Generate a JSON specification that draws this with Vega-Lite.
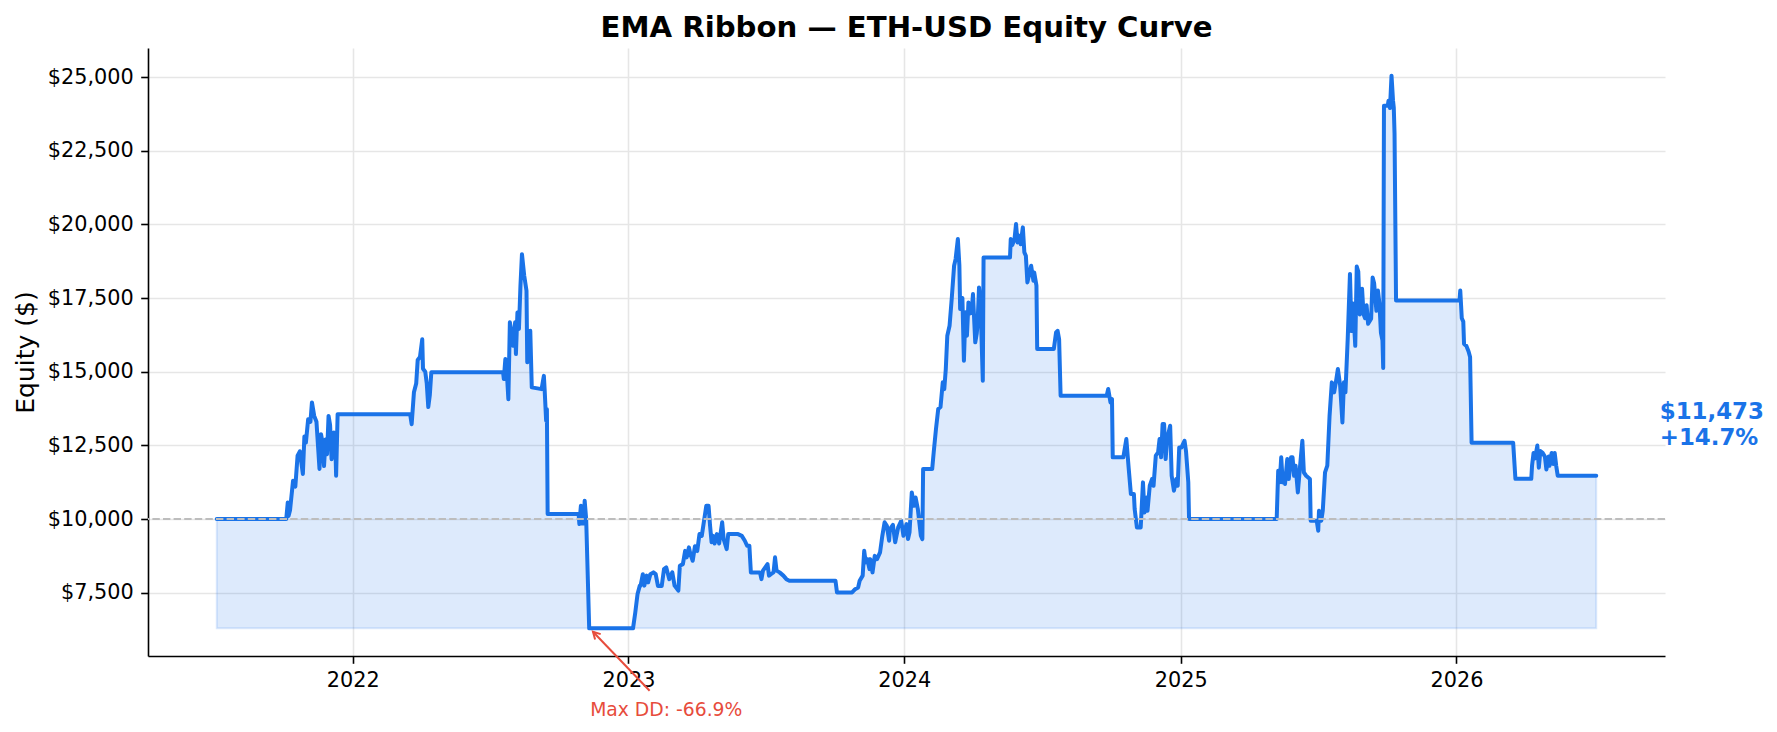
{
"$schema": "https://vega.github.io/schema/vega-lite/v6.json",
"width": 1517, "height": 608,
"autosize": {"type": "none"},
"padding": {"left": 148, "top": 48, "right": 112, "bottom": 76},
"background": "white",
"config": {"view": {"stroke": null}, "font": "DejaVu Sans"},
"title": {"text": "EMA Ribbon — ETH-USD Equity Curve", "fontSize": 29.2, "fontWeight": "bold", "font": "DejaVu Sans", "color": "black", "anchor": "middle", "baseline": "alphabetic", "offset": 10, "dy": 28},
"datasets": {
"equity": [
{"date":"2021-07-05","equity":10000},{"date":"2021-10-05","equity":10000},{"date":"2021-10-07","equity":10560},{"date":"2021-10-08","equity":10100},{"date":"2021-10-10","equity":10300},{"date":"2021-10-14","equity":11300},{"date":"2021-10-17","equity":11100},{"date":"2021-10-20","equity":12150},{"date":"2021-10-23","equity":12300},{"date":"2021-10-27","equity":11530},{"date":"2021-10-29","equity":12800},{"date":"2021-10-31","equity":12600},{"date":"2021-11-03","equity":13390},{"date":"2021-11-06","equity":13300},{"date":"2021-11-08","equity":13960},{"date":"2021-11-11","equity":13500},{"date":"2021-11-14","equity":13300},{"date":"2021-11-16","equity":12500},{"date":"2021-11-18","equity":11700},{"date":"2021-11-20","equity":12880},{"date":"2021-11-22","equity":12600},{"date":"2021-11-24","equity":11800},{"date":"2021-11-26","equity":12700},{"date":"2021-11-28","equity":12200},{"date":"2021-11-30","equity":13500},{"date":"2021-12-02","equity":13200},{"date":"2021-12-04","equity":12030},{"date":"2021-12-07","equity":12940},{"date":"2021-12-09","equity":12500},{"date":"2021-12-10","equity":11470},{"date":"2021-12-12","equity":13560},
{"date":"2022-03-18","equity":13560},{"date":"2022-03-20","equity":13220},{"date":"2022-03-23","equity":14300},{"date":"2022-03-26","equity":14600},{"date":"2022-03-28","equity":15400},{"date":"2022-03-31","equity":15500},{"date":"2022-04-03","equity":16100},{"date":"2022-04-04","equity":15100},{"date":"2022-04-07","equity":15000},{"date":"2022-04-09","equity":14600},{"date":"2022-04-11","equity":13800},{"date":"2022-04-13","equity":14200},{"date":"2022-04-15","equity":14980},
{"date":"2022-07-19","equity":14980},{"date":"2022-07-20","equity":14750},{"date":"2022-07-22","equity":15430},{"date":"2022-07-24","equity":14980},{"date":"2022-07-26","equity":14070},{"date":"2022-07-28","equity":16680},{"date":"2022-07-30","equity":16340},{"date":"2022-08-01","equity":15880},{"date":"2022-08-04","equity":16680},{"date":"2022-08-05","equity":15600},{"date":"2022-08-07","equity":17010},{"date":"2022-08-09","equity":16450},{"date":"2022-08-11","equity":17920},{"date":"2022-08-13","equity":18990},{"date":"2022-08-16","equity":18260},{"date":"2022-08-19","equity":17750},{"date":"2022-08-20","equity":15320},{"date":"2022-08-22","equity":16000},{"date":"2022-08-24","equity":16390},{"date":"2022-08-26","equity":14470},{"date":"2022-09-08","equity":14410},{"date":"2022-09-11","equity":14860},{"date":"2022-09-12","equity":14400},{"date":"2022-09-14","equity":13340},{"date":"2022-09-15","equity":13730},{"date":"2022-09-16","equity":10170},
{"date":"2022-10-27","equity":10170},{"date":"2022-10-28","equity":9830},{"date":"2022-10-30","equity":10450},{"date":"2022-11-01","equity":9850},{"date":"2022-11-03","equity":9850},{"date":"2022-11-04","equity":10620},{"date":"2022-11-06","equity":10000},{"date":"2022-11-10","equity":6290},
{"date":"2023-01-07","equity":6290},{"date":"2023-01-10","equity":6830},{"date":"2023-01-13","equity":7455},{"date":"2023-01-16","equity":7740},{"date":"2023-01-17","equity":7740},{"date":"2023-01-20","equity":8130},{"date":"2023-01-22","equity":7740},{"date":"2023-01-25","equity":8080},{"date":"2023-01-27","equity":7850},{"date":"2023-01-30","equity":8130},{"date":"2023-02-03","equity":8190},{"date":"2023-02-06","equity":8130},{"date":"2023-02-09","equity":7730},{"date":"2023-02-14","equity":7730},{"date":"2023-02-17","equity":8300},{"date":"2023-02-20","equity":8360},{"date":"2023-02-24","equity":7960},{"date":"2023-02-28","equity":8190},{"date":"2023-03-03","equity":7740},{"date":"2023-03-08","equity":7570},{"date":"2023-03-10","equity":8415},{"date":"2023-03-14","equity":8470},{"date":"2023-03-17","equity":8920},{"date":"2023-03-19","equity":8700},{"date":"2023-03-22","equity":9040},{"date":"2023-03-24","equity":8810},{"date":"2023-03-27","equity":8585},{"date":"2023-03-30","equity":9080},{"date":"2023-04-02","equity":8920},{"date":"2023-04-05","equity":9490},{"date":"2023-04-08","equity":9430},{"date":"2023-04-10","equity":9770},{"date":"2023-04-12","equity":10110},{"date":"2023-04-14","equity":10450},{"date":"2023-04-17","equity":10450},{"date":"2023-04-19","equity":9770},{"date":"2023-04-21","equity":9210},{"date":"2023-04-23","equity":9430},{"date":"2023-04-25","equity":9170},{"date":"2023-04-28","equity":9490},{"date":"2023-05-01","equity":9170},{"date":"2023-05-05","equity":9890},{"date":"2023-05-07","equity":9320},{"date":"2023-05-11","equity":8980},{"date":"2023-05-13","equity":9490},{"date":"2023-05-26","equity":9490},{"date":"2023-05-31","equity":9430},{"date":"2023-06-04","equity":9265},{"date":"2023-06-07","equity":9095},{"date":"2023-06-10","equity":9095},{"date":"2023-06-12","equity":8190},{"date":"2023-06-24","equity":8190},{"date":"2023-06-26","equity":7960},{"date":"2023-06-28","equity":8250},{"date":"2023-07-01","equity":8360},{"date":"2023-07-04","equity":8470},{"date":"2023-07-06","equity":8080},{"date":"2023-07-09","equity":8140},{"date":"2023-07-12","equity":8190},{"date":"2023-07-14","equity":8700},{"date":"2023-07-16","equity":8250},{"date":"2023-07-20","equity":8190},{"date":"2023-07-25","equity":8080},{"date":"2023-07-29","equity":7960},{"date":"2023-08-02","equity":7906},{"date":"2023-10-02","equity":7906},{"date":"2023-10-04","equity":7510},{"date":"2023-10-24","equity":7510},{"date":"2023-10-28","equity":7620},{"date":"2023-11-01","equity":7680},{"date":"2023-11-03","equity":7906},{"date":"2023-11-07","equity":8080},{"date":"2023-11-09","equity":8924},{"date":"2023-11-11","equity":8530},{"date":"2023-11-13","equity":8640},{"date":"2023-11-16","equity":8300},{"date":"2023-11-17","equity":8640},{"date":"2023-11-20","equity":8190},{"date":"2023-11-23","equity":8750},{"date":"2023-11-26","equity":8640},{"date":"2023-11-30","equity":8870},{"date":"2023-12-03","equity":9430},{"date":"2023-12-06","equity":9890},{"date":"2023-12-09","equity":9770},{"date":"2023-12-12","equity":9265},{"date":"2023-12-13","equity":9660},{"date":"2023-12-17","equity":9800},{"date":"2023-12-20","equity":9210},{"date":"2023-12-24","equity":9717},{"date":"2023-12-28","equity":9943},{"date":"2023-12-31","equity":9430},
{"date":"2024-01-04","equity":9830},{"date":"2024-01-06","equity":9321},{"date":"2024-01-08","equity":9550},{"date":"2024-01-11","equity":10905},{"date":"2024-01-14","equity":10450},{"date":"2024-01-16","equity":10735},{"date":"2024-01-19","equity":10340},{"date":"2024-01-23","equity":9434},{"date":"2024-01-25","equity":9321},{"date":"2024-01-26","equity":11697},{"date":"2024-02-07","equity":11697},{"date":"2024-02-09","equity":12263},{"date":"2024-02-12","equity":13054},{"date":"2024-02-15","equity":13733},{"date":"2024-02-18","equity":13800},{"date":"2024-02-21","equity":14639},{"date":"2024-02-23","equity":14410},{"date":"2024-02-25","equity":15091},{"date":"2024-02-27","equity":16222},{"date":"2024-03-01","equity":16561},{"date":"2024-03-04","equity":17523},{"date":"2024-03-07","equity":18597},{"date":"2024-03-09","equity":18824},{"date":"2024-03-12","equity":19503},{"date":"2024-03-14","equity":18600},{"date":"2024-03-15","equity":17127},{"date":"2024-03-18","equity":17500},{"date":"2024-03-20","equity":15373},{"date":"2024-03-22","equity":17015},{"date":"2024-03-24","equity":16222},{"date":"2024-03-26","equity":17354},{"date":"2024-03-28","equity":16980},{"date":"2024-03-30","equity":17000},{"date":"2024-04-01","equity":17637},{"date":"2024-04-04","equity":15997},{"date":"2024-04-06","equity":16300},{"date":"2024-04-07","equity":16600},{"date":"2024-04-09","equity":17863},{"date":"2024-04-11","equity":17300},{"date":"2024-04-14","equity":14695},{"date":"2024-04-15","equity":18881},{"date":"2024-05-20","equity":18881},{"date":"2024-05-21","equity":19503},{"date":"2024-05-23","equity":19300},{"date":"2024-05-26","equity":19503},{"date":"2024-05-28","equity":20012},{"date":"2024-05-30","equity":19390},{"date":"2024-06-01","equity":19620},{"date":"2024-06-03","equity":19330},{"date":"2024-06-06","equity":19900},{"date":"2024-06-08","equity":19050},{"date":"2024-06-10","equity":18937},{"date":"2024-06-12","equity":18033},{"date":"2024-06-15","equity":18370},{"date":"2024-06-17","equity":18597},{"date":"2024-06-20","equity":18090},{"date":"2024-06-21","equity":18370},{"date":"2024-06-24","equity":17920},{"date":"2024-06-25","equity":15770},{"date":"2024-07-17","equity":15770},{"date":"2024-07-20","equity":16336},{"date":"2024-07-22","equity":16390},{"date":"2024-07-24","equity":16110},{"date":"2024-07-26","equity":14185},{"date":"2024-09-25","equity":14185},{"date":"2024-09-27","equity":14412},{"date":"2024-09-30","equity":13960},{"date":"2024-10-02","equity":14070},{"date":"2024-10-03","equity":12094},{"date":"2024-10-17","equity":12094},{"date":"2024-10-21","equity":12715},{"date":"2024-10-24","equity":11755},{"date":"2024-10-27","equity":10849},{"date":"2024-10-31","equity":10849},{"date":"2024-11-01","equity":10339},{"date":"2024-11-04","equity":9717},{"date":"2024-11-09","equity":9717},{"date":"2024-11-12","equity":11245},{"date":"2024-11-14","equity":10226},{"date":"2024-11-17","equity":10735},{"date":"2024-11-18","equity":10280},{"date":"2024-11-21","equity":11130},{"date":"2024-11-24","equity":11358},{"date":"2024-11-26","equity":11130},{"date":"2024-11-29","equity":12150},{"date":"2024-12-02","equity":12260},{"date":"2024-12-04","equity":12715},{"date":"2024-12-06","equity":12094},{"date":"2024-12-08","equity":13224},{"date":"2024-12-10","equity":13224},{"date":"2024-12-12","equity":12036},{"date":"2024-12-14","equity":12715},{"date":"2024-12-18","equity":13167},{"date":"2024-12-20","equity":11470},{"date":"2024-12-23","equity":10961},{"date":"2024-12-26","equity":11358},{"date":"2024-12-28","equity":11130},{"date":"2024-12-30","equity":12432},
{"date":"2025-01-02","equity":12432},{"date":"2025-01-06","equity":12658},{"date":"2025-01-08","equity":12300},{"date":"2025-01-11","equity":11245},{"date":"2025-01-12","equity":10000},{"date":"2025-05-08","equity":10000},{"date":"2025-05-10","equity":11640},{"date":"2025-05-12","equity":11245},{"date":"2025-05-14","equity":12094},{"date":"2025-05-16","equity":11245},{"date":"2025-05-17","equity":11470},{"date":"2025-05-19","equity":11190},{"date":"2025-05-22","equity":12036},{"date":"2025-05-24","equity":11358},{"date":"2025-05-27","equity":12094},{"date":"2025-05-29","equity":12094},{"date":"2025-05-31","equity":11470},{"date":"2025-06-02","equity":11810},{"date":"2025-06-05","equity":10905},{"date":"2025-06-08","equity":11810},{"date":"2025-06-11","equity":12658},{"date":"2025-06-13","equity":11580},{"date":"2025-06-16","equity":11470},{"date":"2025-06-21","equity":11358},{"date":"2025-06-22","equity":9943},{"date":"2025-06-30","equity":9943},{"date":"2025-07-02","equity":9603},{"date":"2025-07-03","equity":10283},{"date":"2025-07-06","equity":9943},{"date":"2025-07-08","equity":10283},{"date":"2025-07-11","equity":11584},{"date":"2025-07-14","equity":11810},{"date":"2025-07-17","equity":13506},{"date":"2025-07-20","equity":14639},{"date":"2025-07-23","equity":14300},{"date":"2025-07-26","equity":14752},{"date":"2025-07-28","equity":15091},{"date":"2025-07-31","equity":14530},{"date":"2025-08-03","equity":13280},{"date":"2025-08-05","equity":14640},{"date":"2025-08-07","equity":14300},{"date":"2025-08-10","equity":16109},{"date":"2025-08-13","equity":18321},{"date":"2025-08-15","equity":16380},{"date":"2025-08-17","equity":17320},{"date":"2025-08-20","equity":15878},{"date":"2025-08-22","equity":18572},{"date":"2025-08-24","equity":18400},{"date":"2025-08-26","equity":16943},{"date":"2025-08-29","equity":17820},{"date":"2025-08-31","equity":16950},{"date":"2025-09-02","equity":16818},{"date":"2025-09-04","equity":17257},{"date":"2025-09-06","equity":16630},{"date":"2025-09-10","equity":16800},{"date":"2025-09-12","equity":18196},{"date":"2025-09-14","equity":18000},{"date":"2025-09-17","equity":17069},{"date":"2025-09-19","equity":17757},{"date":"2025-09-21","equity":17320},{"date":"2025-09-23","equity":16317},{"date":"2025-09-25","equity":16067},{"date":"2025-09-26","equity":15126},{"date":"2025-09-27","equity":24030},{"date":"2025-10-02","equity":24030},{"date":"2025-10-03","equity":24200},{"date":"2025-10-05","equity":23950},{"date":"2025-10-07","equity":25050},{"date":"2025-10-09","equity":24200},{"date":"2025-10-10","equity":23960},{"date":"2025-10-11","equity":23080},{"date":"2025-10-13","equity":17420},
{"date":"2026-01-05","equity":17420},{"date":"2026-01-06","equity":17757},{"date":"2026-01-08","equity":16818},{"date":"2026-01-10","equity":16700},{"date":"2026-01-11","equity":15940},{"date":"2026-01-14","equity":15880},{"date":"2026-01-17","equity":15690},{"date":"2026-01-19","equity":15500},{"date":"2026-01-21","equity":12590},{"date":"2026-03-17","equity":12590},{"date":"2026-03-20","equity":11367},{"date":"2026-04-10","equity":11367},{"date":"2026-04-11","equity":11806},{"date":"2026-04-13","equity":12245},{"date":"2026-04-15","equity":12060},{"date":"2026-04-18","equity":12495},{"date":"2026-04-20","equity":11744},{"date":"2026-04-22","equity":12307},{"date":"2026-04-25","equity":12245},{"date":"2026-04-28","equity":12120},{"date":"2026-04-30","equity":11681},{"date":"2026-05-03","equity":12120},{"date":"2026-05-04","equity":11806},{"date":"2026-05-07","equity":12245},{"date":"2026-05-09","equity":11870},{"date":"2026-05-11","equity":12245},{"date":"2026-05-13","equity":11806},{"date":"2026-05-15","equity":11473},{"date":"2026-07-05","equity":11473}
]
},
"layer": [
  {"data": {"name": "equity"},
   "mark": {"type": "area", "fill": "#1a73e8", "fillOpacity": 0.15, "stroke": "#1a73e8", "strokeOpacity": 0.15, "strokeWidth": 2},
   "encoding": {
     "x": {"field": "date", "type": "temporal",
        "scale": {"type": "utc", "domain": [{"year": 2021, "month": 4, "date": 5, "utc": true}, {"year": 2026, "month": 10, "date": 4, "utc": true}]},
        "axis": {"title": null, "format": "%Y", "formatType": "utc", "tickCount": {"interval": "year", "step": 1},
                 "grid": true, "gridColor": "#e6e6e6", "gridWidth": 1.6,
                 "domainColor": "#000000", "domainWidth": 1.6, "tickColor": "#000000", "tickWidth": 1.6, "tickSize": 7.3,
                 "labelFont": "DejaVu Sans", "labelFontSize": 20.8, "labelColor": "#000000", "labelPadding": 7.5, "labelFlush": false, "labelOverlap": false}},
     "y": {"field": "equity", "type": "quantitative",
        "scale": {"domain": [5352, 25988], "nice": false, "zero": false},
        "axis": {"title": "Equity ($)", "values": [7500, 10000, 12500, 15000, 17500, 20000, 22500, 25000], "format": "$,.0f",
                 "grid": true, "gridColor": "#e6e6e6", "gridWidth": 1.6,
                 "domainColor": "#000000", "domainWidth": 1.6, "tickColor": "#000000", "tickWidth": 1.6, "tickSize": 7.3,
                 "labelFont": "DejaVu Sans", "labelFontSize": 20.8, "labelColor": "#000000", "labelPadding": 7.5,
                 "titleFont": "DejaVu Sans", "titleFontSize": 25, "titleFontWeight": "normal", "titleColor": "#000000",
                 "titleAngle": -90, "titleX": -115, "titleY": 304, "titleAlign": "center", "titleBaseline": "alphabetic"}},
     "y2": {"datum": 6290}}},
  {"data": {"name": "equity"},
   "mark": {"type": "line", "color": "#1a73e8", "strokeWidth": 4, "strokeJoin": "round", "strokeCap": "round"},
   "encoding": {"x": {"field": "date", "type": "temporal"}, "y": {"field": "equity", "type": "quantitative"}}},
  {"data": {"values": [{"equity": 10000}]},
   "mark": {"type": "rule", "color": "#bdbdbd", "strokeWidth": 2, "strokeDash": [7.4, 3.2]},
   "encoding": {"y": {"field": "equity", "type": "quantitative"}}},
  {"data": {"values": [{"date": "2023-01-29", "equity": 4172, "date2": "2022-11-15", "equity2": 6175}]},
   "mark": {"type": "rule", "color": "#e74c3c", "strokeWidth": 2, "clip": false},
   "encoding": {"x": {"field": "date", "type": "temporal"}, "y": {"field": "equity", "type": "quantitative"}, "x2": {"field": "date2"}, "y2": {"field": "equity2"}}},
  {"data": {"values": [{"date": "2022-11-15", "equity": 6175}]},
   "mark": {"type": "point", "shape": "M-0.55,1L0,0L0.55,1", "size": 200, "angle": 316, "filled": false, "stroke": "#e74c3c", "strokeWidth": 2, "opacity": 1, "clip": false},
   "encoding": {"x": {"field": "date", "type": "temporal"}, "y": {"field": "equity", "type": "quantitative"}}},
  {"data": {"values": [{"date": "2023-02-20", "equity": 3325, "label": "Max DD: -66.9%"}]},
   "mark": {"type": "text", "color": "#e74c3c", "font": "DejaVu Sans", "fontSize": 18.75, "align": "center", "baseline": "alphabetic", "clip": false},
   "encoding": {"x": {"field": "date", "type": "temporal"}, "y": {"field": "equity", "type": "quantitative"}, "text": {"field": "label"}}},
  {"data": {"values": [{"date": "2026-09-27", "equity": 13394, "label": "$11,473"}, {"date": "2026-09-27", "equity": 12512, "label": "+14.7%"}]},
   "mark": {"type": "text", "color": "#1a73e8", "font": "DejaVu Sans", "fontSize": 22.9, "fontWeight": "bold", "align": "left", "baseline": "alphabetic", "clip": false},
   "encoding": {"x": {"field": "date", "type": "temporal"}, "y": {"field": "equity", "type": "quantitative"}, "text": {"field": "label"}}}
]
}
